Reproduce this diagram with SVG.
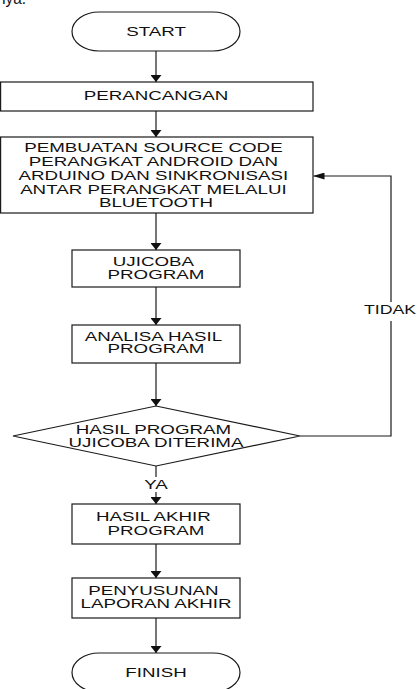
<svg xmlns="http://www.w3.org/2000/svg" width="417" height="689" viewBox="0 0 417 689">
  <style>
    .shape { fill: #ffffff; stroke: #1a1a1a; stroke-width: 1.2; }
    .conn { fill: none; stroke: #1a1a1a; stroke-width: 1.2; }
    .lbl { font-family: "Liberation Sans", Arial, sans-serif; font-size: 12.5px; fill: #111111; text-anchor: middle; }
    .doc { font-family: "Liberation Sans", Arial, sans-serif; font-size: 17px; fill: #111111; }
  </style>
  <defs>
    <marker id="arrowV" viewBox="0 0 7 11" refX="7" refY="5.5" markerWidth="7" markerHeight="11" markerUnits="userSpaceOnUse" orient="auto">
      <path d="M0,0 L7,5.5 L0,11 z" fill="#111111"/>
    </marker>
    <marker id="arrowH" viewBox="0 0 11 7" refX="11" refY="3.5" markerWidth="11" markerHeight="7" markerUnits="userSpaceOnUse" orient="auto">
      <path d="M0,0 L11,3.5 L0,7 z" fill="#111111"/>
    </marker>
  </defs>
  <rect width="417" height="689" fill="#ffffff"/>

  <text class="doc" x="-3" y="4" textLength="29" lengthAdjust="spacingAndGlyphs">nya.</text>

  <g id="connectors">
    <line class="conn" x1="156" y1="51" x2="156" y2="82" marker-end="url(#arrowV)"/>
    <line class="conn" x1="156" y1="111" x2="156" y2="137" marker-end="url(#arrowV)"/>
    <line class="conn" x1="156" y1="213" x2="156" y2="250" marker-end="url(#arrowV)"/>
    <line class="conn" x1="156" y1="287" x2="156" y2="325" marker-end="url(#arrowV)"/>
    <line class="conn" x1="156" y1="363" x2="156" y2="406" marker-end="url(#arrowV)"/>
    <line class="conn" x1="156" y1="466" x2="156" y2="477"/>
    <line class="conn" x1="156" y1="492" x2="156" y2="504" marker-end="url(#arrowV)"/>
    <line class="conn" x1="156" y1="544" x2="156" y2="578" marker-end="url(#arrowV)"/>
    <line class="conn" x1="156" y1="618" x2="156" y2="653" marker-end="url(#arrowV)"/>
    <polyline class="conn" points="300,436 391,436 391,321"/>
    <polyline class="conn" points="391,302 391,176 313.5,176" marker-end="url(#arrowH)"/>
    <text class="lbl" transform="translate(156 0) scale(1.5 1)" y="489">YA</text>
    <text class="lbl" transform="translate(390 0) scale(1.42 1)" y="314">TIDAK</text>
  </g>

  <g id="start">
    <rect class="shape" x="72" y="12" width="168" height="39" rx="27" ry="19.5"/>
    <text class="lbl" transform="translate(156 0) scale(1.5 1)" y="36">START</text>
  </g>

  <g id="perancangan">
    <rect class="shape" x="0.6" y="82" width="312.4" height="29"/>
    <text class="lbl" transform="translate(156 0) scale(1.5 1)" y="100.5">PERANCANGAN</text>
  </g>

  <g id="pembuatan">
    <rect class="shape" x="0.6" y="137" width="312.4" height="76"/>
    <text class="lbl" transform="translate(156 0) scale(1.5 1)">
      <tspan x="0" y="152">PEMBUATAN SOURCE CODE</tspan>
      <tspan x="0" y="166">PERANGKAT ANDROID DAN</tspan>
      <tspan x="0" y="180">ARDUINO DAN SINKRONISASI</tspan>
      <tspan x="0" y="194">ANTAR PERANGKAT MELALUI</tspan>
      <tspan x="0" y="207.5">BLUETOOTH</tspan>
    </text>
  </g>

  <g id="ujicoba">
    <rect class="shape" x="72" y="250" width="168" height="37"/>
    <text class="lbl" transform="translate(156 0) scale(1.5 1)">
      <tspan x="0" y="266.5">UJICOBA</tspan>
      <tspan x="0" y="279">PROGRAM</tspan>
    </text>
  </g>

  <g id="analisa">
    <rect class="shape" x="72" y="325" width="168" height="38"/>
    <text class="lbl" transform="translate(156 0) scale(1.5 1)">
      <tspan x="0" y="341">ANALISA HASIL</tspan>
      <tspan x="0" y="353.5">PROGRAM</tspan>
    </text>
  </g>

  <g id="keputusan">
    <polygon class="shape" points="156,406 300,436 156,466 13,436"/>
    <text class="lbl" transform="translate(156 0) scale(1.5 1)">
      <tspan x="0" y="434">HASIL PROGRAM</tspan>
      <tspan x="0" y="447">UJICOBA DITERIMA</tspan>
    </text>
  </g>

  <g id="hasil-akhir">
    <rect class="shape" x="72" y="504" width="168" height="40"/>
    <text class="lbl" transform="translate(156 0) scale(1.5 1)">
      <tspan x="0" y="521">HASIL AKHIR</tspan>
      <tspan x="0" y="535">PROGRAM</tspan>
    </text>
  </g>

  <g id="penyusunan">
    <rect class="shape" x="72" y="578" width="168" height="40"/>
    <text class="lbl" transform="translate(156 0) scale(1.5 1)">
      <tspan x="0" y="595">PENYUSUNAN</tspan>
      <tspan x="0" y="608">LAPORAN AKHIR</tspan>
    </text>
  </g>

  <g id="finish">
    <rect class="shape" x="72" y="653" width="168" height="39" rx="27" ry="19.5"/>
    <text class="lbl" transform="translate(156 0) scale(1.5 1)" y="677">FINISH</text>
  </g>
</svg>
